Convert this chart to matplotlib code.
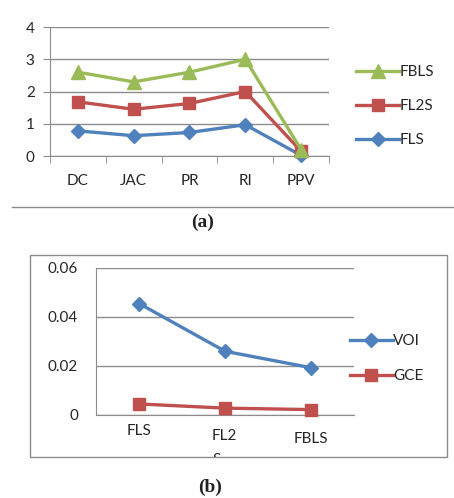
import matplotlib.pyplot as plt
from matplotlib.patches import Rectangle
from matplotlib.lines import Line2D
from matplotlib.transforms import ScaledTranslation

# (a) data
cats_a = ['DC', 'JAC', 'PR', 'RI', 'PPV']
fls = [0.78, 0.63, 0.73, 0.97, 0.02]
fl2s = [1.68, 1.45, 1.63, 2.0, 0.15]
fbls = [2.6, 2.3, 2.6, 3.0, 0.2]

# (b) data
cats_b = ['FLS', 'FL2\nS', 'FBLS']
voi = [0.0455, 0.026, 0.0193]
gce = [0.0045, 0.0028, 0.0022]

blue = '#4F81BD'
red = '#C0504D'
green = '#9BBB59'
grid = '#8C8C8C'
txt = '#262626'

plt.rcParams['font.family'] = ['Lato', 'DejaVu Sans']
plt.rcParams['font.size'] = 11

fig = plt.figure(figsize=(4.54, 4.98), dpi=100)

# ---------- chart (a)
ax = fig.add_axes([0.1101, 0.6867, 0.6145, 0.2590])
x = list(range(len(cats_a)))
ax.plot(x, fls, color=blue, lw=2.4, marker='D', ms=7.5, label='FLS', clip_on=False, zorder=3)
ax.plot(x, fl2s, color=red, lw=2.4, marker='s', ms=9, label='FL2S', clip_on=False, zorder=3)
ax.plot(x, fbls, color=green, lw=2.4, marker='^', ms=10, label='FBLS', clip_on=False, zorder=3)
ax.set_xlim(-0.5, 4.5)
ax.set_ylim(0, 4)
ax.set_yticks([0, 1, 2, 3, 4])
ax.set_xticks(x)
ax.set_xticklabels(cats_a)
ax.set_xticks([i - 0.5 for i in range(6)], minor=True)
ax.tick_params(axis='x', which='major', length=0, pad=13, colors=txt, labelsize=11)
ax.tick_params(axis='x', which='minor', length=5, color=grid, direction='out')
ax.tick_params(axis='y', length=5, color=grid, pad=6, labelsize=11, labelcolor=txt)
ax.yaxis.grid(True, color=grid, lw=1)
for s in ['top', 'right']:
    ax.spines[s].set_visible(False)
for s in ['left', 'bottom']:
    ax.spines[s].set_color(grid)
h, l = ax.get_legend_handles_labels()
fig.legend(h[::-1], l[::-1], loc='center left', bbox_to_anchor=(0.785, 0.787),
           frameon=False, handlelength=2.8, handletextpad=0.0, labelspacing=1.3,
           borderpad=0, borderaxespad=0, fontsize=11, labelcolor=txt)

fig.add_artist(Line2D([0.026, 1.0], [0.5843, 0.5843], color=grid, lw=1))
fig.text(0.447, 0.553, '(a)', ha='center', va='center', family='Liberation Serif',
         fontweight='bold', fontsize=14, color='#222222')

# ---------- chart (b)
box = Rectangle((0.0661, 0.0823), 0.9185, 0.4056, transform=fig.transFigure,
                fill=False, edgecolor=grid, lw=1)
fig.add_artist(box)

bx = fig.add_axes([0.2115, 0.1667, 0.5683, 0.2952])
xb = list(range(len(cats_b)))
bx.plot(xb, voi, color=blue, lw=2.4, marker='D', ms=7.5, label='VOI', clip_on=False, zorder=3)
bx.plot(xb, gce, color=red, lw=2.4, marker='s', ms=9, label='GCE', clip_on=False, zorder=3)
bx.set_xlim(-0.5, 2.5)
bx.set_ylim(0, 0.06)
bx.set_yticks([0, 0.02, 0.04, 0.06])
bx.set_yticklabels(['0', '0.02', '0.04', '0.06'])
bx.set_xticks([])
bx.tick_params(axis='y', length=0, pad=13, labelsize=11, labelcolor=txt)
bx.yaxis.grid(True, color=grid, lw=1)
for s in ['top', 'right']:
    bx.spines[s].set_visible(False)
for s in ['left', 'bottom']:
    bx.spines[s].set_color(grid)
offs = [-6.5, -10, -12.5]
for i, c in enumerate(cats_b):
    tr = bx.get_xaxis_transform() + ScaledTranslation(0, offs[i] / 72, fig.dpi_scale_trans)
    t = bx.text(i, 0, c, transform=tr, ha='center', va='top', fontsize=11,
                color=txt, linespacing=1.95, multialignment='left', clip_on=True)
    t.set_clip_path(box)
    if '\n' in c:
        t.set_ha('left')
        t.set_x(i - 0.15)
bx.legend(loc='center left', bbox_to_anchor=(0.771, 0.280), bbox_transform=fig.transFigure,
          frameon=False, handlelength=2.8, handletextpad=0.0, labelspacing=1.35,
          borderpad=0, borderaxespad=0, fontsize=11, labelcolor=txt)

fig.text(0.463, 0.022, '(b)', ha='center', va='center', family='Liberation Serif',
         fontweight='bold', fontsize=14, color='#222222')

fig.savefig('out.png', dpi=100)
